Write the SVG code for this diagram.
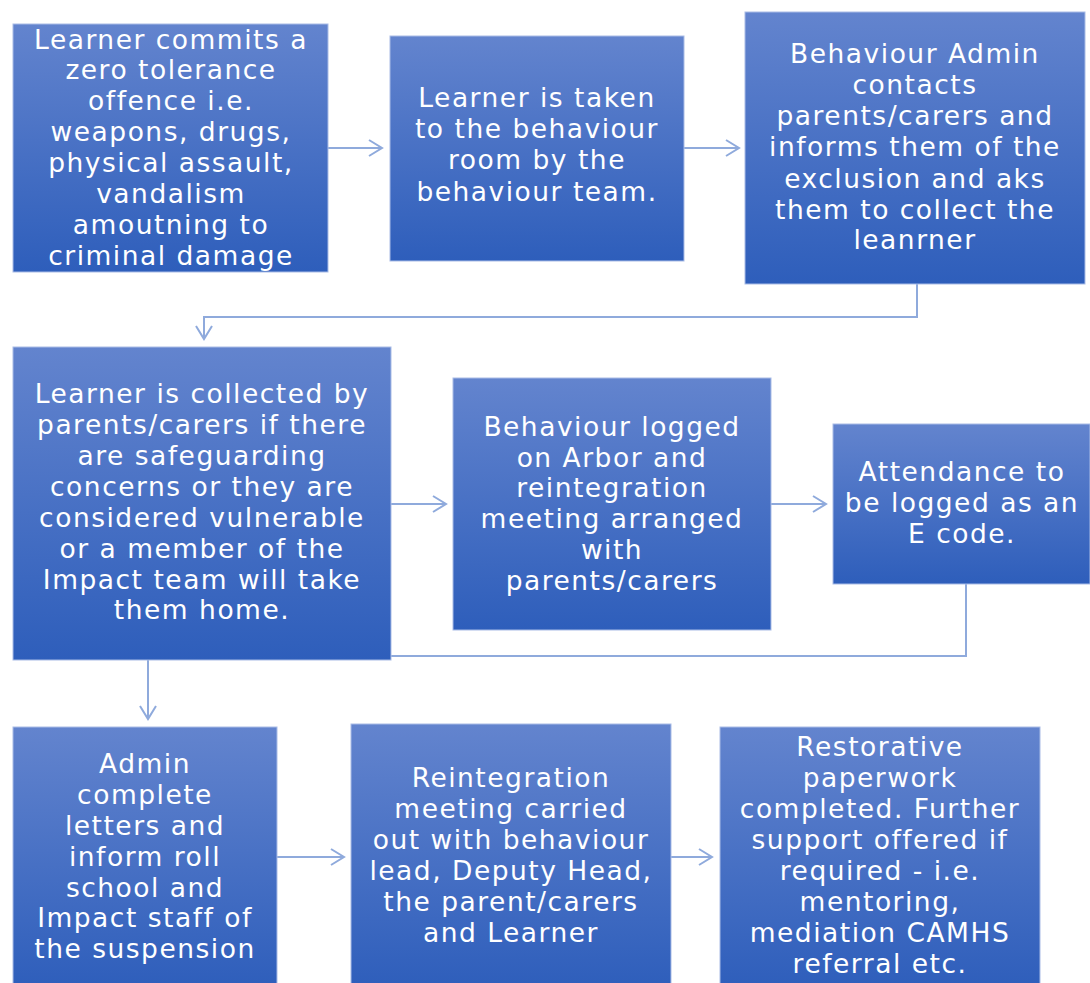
<svg xmlns="http://www.w3.org/2000/svg" width="1090" height="983" viewBox="0 0 1090 983">
<defs>
<linearGradient id="g" x1="0" y1="0" x2="0" y2="1">
<stop offset="0" stop-color="#6384CE"/>
<stop offset="1" stop-color="#2E5EBB"/>
</linearGradient>
<marker id="a" markerWidth="20" markerHeight="20" refX="14" refY="10" orient="auto" markerUnits="userSpaceOnUse">
<path d="M1,2 L14,10 L1,18" fill="none" stroke="#8FAADC" stroke-width="2"/>
</marker>
<style>
.b{fill:url(#g);stroke:#A9BCE6;stroke-width:1}
.t{font-family:"DejaVu Sans",sans-serif;font-size:26.5px;fill:#FFFFFF;text-anchor:middle;letter-spacing:1.5px}
.c{fill:none;stroke:#8FAADC;stroke-width:2}
</style>
</defs>
<rect width="1090" height="983" fill="#FFFFFF"/>
<g id="connectors">
<path class="c" d="M328,148 H382" marker-end="url(#a)"/>
<path class="c" d="M684,148 H739" marker-end="url(#a)"/>
<path class="c" d="M917,284 V317 H204 V339" marker-end="url(#a)"/>
<path class="c" d="M391,504 H446" marker-end="url(#a)"/>
<path class="c" d="M771,504 H826" marker-end="url(#a)"/>
<path class="c" d="M966,584 V656 H148 V719" marker-end="url(#a)"/>
<path class="c" d="M277,857 H344" marker-end="url(#a)"/>
<path class="c" d="M671,857 H712" marker-end="url(#a)"/>
</g>
<g id="n1">
<rect class="b" x="13" y="24" width="315" height="248"/>
<text class="t"><tspan x="171" y="49">Learner commits a</tspan><tspan x="171" y="79">zero tolerance</tspan><tspan x="171" y="110">offence i.e.</tspan><tspan x="171" y="141">weapons, drugs,</tspan><tspan x="171" y="172">physical assault,</tspan><tspan x="171" y="203">vandalism</tspan><tspan x="171" y="234">amoutning to</tspan><tspan x="171" y="265">criminal damage</tspan></text>
</g>
<g id="n2">
<rect class="b" x="390" y="36" width="294" height="225"/>
<text class="t"><tspan x="537" y="107">Learner is taken</tspan><tspan x="537" y="138">to the behaviour</tspan><tspan x="537" y="169">room by the</tspan><tspan x="537" y="201">behaviour team.</tspan></text>
</g>
<g id="n3">
<rect class="b" x="745" y="12" width="340" height="272"/>
<text class="t"><tspan x="915" y="63">Behaviour Admin</tspan><tspan x="915" y="94">contacts</tspan><tspan x="915" y="125">parents/carers and</tspan><tspan x="915" y="156">informs them of the</tspan><tspan x="915" y="188">exclusion and aks</tspan><tspan x="915" y="219">them to collect the</tspan><tspan x="915" y="249">leanrner</tspan></text>
</g>
<g id="n4">
<rect class="b" x="13" y="347" width="378" height="313"/>
<text class="t"><tspan x="202" y="403">Learner is collected by</tspan><tspan x="202" y="434">parents/carers if there</tspan><tspan x="202" y="465">are safeguarding</tspan><tspan x="202" y="496">concerns or they are</tspan><tspan x="202" y="527">considered vulnerable</tspan><tspan x="202" y="558">or a member of the</tspan><tspan x="202" y="589">Impact team will take</tspan><tspan x="202" y="619">them home.</tspan></text>
</g>
<g id="n5">
<rect class="b" x="453" y="378" width="318" height="252"/>
<text class="t"><tspan x="612" y="436">Behaviour logged</tspan><tspan x="612" y="467">on Arbor and</tspan><tspan x="612" y="497">reintegration</tspan><tspan x="612" y="528">meeting arranged</tspan><tspan x="612" y="559">with</tspan><tspan x="612" y="590">parents/carers</tspan></text>
</g>
<g id="n6">
<rect class="b" x="833" y="424" width="257" height="160"/>
<text class="t"><tspan x="962" y="481">Attendance to</tspan><tspan x="962" y="512">be logged as an</tspan><tspan x="962" y="543">E code.</tspan></text>
</g>
<g id="n7">
<rect class="b" x="13" y="727" width="264" height="262"/>
<text class="t"><tspan x="145" y="773">Admin</tspan><tspan x="145" y="804">complete</tspan><tspan x="145" y="835">letters and</tspan><tspan x="145" y="866">inform roll</tspan><tspan x="145" y="897">school and</tspan><tspan x="145" y="927">Impact staff of</tspan><tspan x="145" y="958">the suspension</tspan></text>
</g>
<g id="n8">
<rect class="b" x="351" y="724" width="320" height="265"/>
<text class="t"><tspan x="511" y="787">Reintegration</tspan><tspan x="511" y="818">meeting carried</tspan><tspan x="511" y="849">out with behaviour</tspan><tspan x="511" y="880">lead, Deputy Head,</tspan><tspan x="511" y="911">the parent/carers</tspan><tspan x="511" y="942">and Learner</tspan></text>
</g>
<g id="n9">
<rect class="b" x="720" y="727" width="320" height="262"/>
<text class="t"><tspan x="880" y="756">Restorative</tspan><tspan x="880" y="787">paperwork</tspan><tspan x="880" y="818">completed. Further</tspan><tspan x="880" y="849">support offered if</tspan><tspan x="880" y="880">required - i.e.</tspan><tspan x="880" y="911">mentoring,</tspan><tspan x="880" y="942">mediation CAMHS</tspan><tspan x="880" y="973">referral etc.</tspan></text>
</g>
</svg>
